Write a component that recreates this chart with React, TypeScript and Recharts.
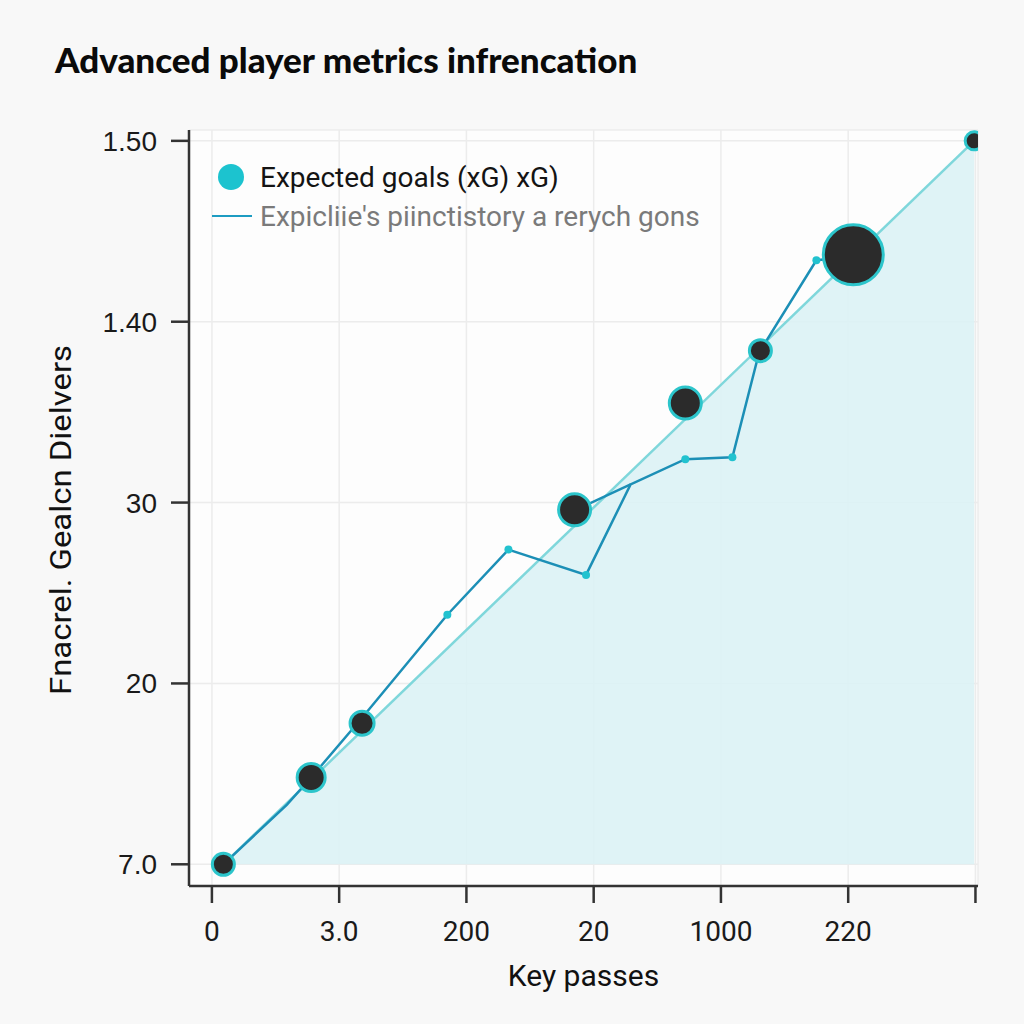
import React from "react";
import {
  ComposedChart,
  Line,
  Area,
  Scatter,
  XAxis,
  YAxis,
  CartesianGrid,
  Legend,
} from "recharts";

// tick positions and the (odd) labels printed on them
const xTicks = [0, 1, 2, 3, 4, 5, 6];
const xTickLabels = ["0", "3.0", "200", "20", "1000", "220", ""];
const yTicks = [0, 1, 2, 3, 4];
const yTickLabels = ["7.0", "20", "30", "1.40", "1.50"];

// bubbles: key passes position, xG value, bubble radius
const bubbleX = [0.09, 0.78, 1.18, 2.85, 3.72, 4.31, 5.04, 5.99];
const bubbleY = [0.0, 0.48, 0.78, 1.96, 2.55, 2.84, 3.37, 4.0];
const bubbleR = [11, 14, 12, 16, 16, 11, 30, 9];

// actual path line
const pathX = [0.09, 0.59, 0.78, 1.18, 1.85, 2.33, 2.94, 3.29, 3.72, 4.09, 4.3, 4.75, 5.04];
const pathY = [0.0, 0.33, 0.48, 0.81, 1.38, 1.74, 1.6, 2.1, 2.24, 2.25, 2.83, 3.34, 3.36];
const pathDots = [false, false, false, false, true, true, true, false, true, true, false, true, false];

// short stray segment from the 4th bubble
const strayX = [2.86, 3.29];
const strayY = [1.96, 2.1];

// trend line
const trendX = [0.09, 5.99];
const trendY = [0.0, 4.0];

const bubbles = bubbleX.map((x, i) => ({ x, y: bubbleY[i], r: bubbleR[i] }));
const path = pathX.map((x, i) => ({ x, path: pathY[i], dot: pathDots[i] }));
const stray = strayX.map((x, i) => ({ x, stray: strayY[i] }));
const trend = trendX.map((x, i) => ({ x, trend: trendY[i] }));

const BubbleShape = (props: any) => {
  const { cx, cy, payload } = props;
  return (
    <circle cx={cx} cy={cy} r={payload.r} fill="#2b2b2b" stroke="#2cc5cb" strokeWidth={3} />
  );
};

const PathDot = (props: any) => {
  const { cx, cy, payload, index } = props;
  if (!payload.dot) return <g key={`d-${index}`} />;
  return <circle key={`d-${index}`} cx={cx} cy={cy} r={4} fill="#22c2cf" />;
};

const CustomLegend = () => (
  <div style={{ fontFamily: "Roboto, 'Noto Sans', sans-serif" }}>
    <div style={{ display: "flex", alignItems: "center", height: 38 }}>
      <span
        style={{
          width: 26,
          height: 26,
          borderRadius: "50%",
          background: "#1cc3cf",
          marginLeft: 11,
          marginRight: 16,
        }}
      />
      <span style={{ fontSize: 28, color: "#141414" }}>Expected goals (xG) xG)</span>
    </div>
    <div style={{ display: "flex", alignItems: "center", height: 40 }}>
      <span
        style={{ width: 40, height: 2, background: "#1d9cc2", marginLeft: 5, marginRight: 8 }}
      />
      <span style={{ fontSize: 28, color: "#7a7a7a" }}>
        Expicliie's piinctistory a rerych gons
      </span>
    </div>
  </div>
);

const App = () => {
  return (
    <div
      style={{
        position: "fixed",
        top: 0,
        left: 0,
        width: 1024,
        height: 1024,
        background: "#f8f8f8",
      }}
    >
      <div
        style={{
          position: "absolute",
          left: 55,
          top: 38,
          fontFamily: "Lato, 'Open Sans', sans-serif",
          fontWeight: 900,
          fontSize: 35,
          color: "#0a0a0a",
          whiteSpace: "nowrap",
        }}
      >
        Advanced player metrics infrencation
      </div>
      <ComposedChart
        width={1024}
        height={1024}
        margin={{ top: 130, right: 46, left: 109, bottom: 28 }}
      >
        <CartesianGrid stroke="#ececec" strokeWidth={1.5} fill="#fdfdfd" />
        <XAxis
          type="number"
          dataKey="x"
          domain={[-0.18, 6.02]}
          ticks={xTicks}
          allowDataOverflow
          height={110}
          tickFormatter={(v: number) => xTickLabels[v] ?? ""}
          tick={{ fontSize: 28, fill: "#1a1a1a", fontFamily: "Roboto, sans-serif", dy: 16 }}
          tickSize={17}
          axisLine={{ stroke: "#333", strokeWidth: 2.5 }}
          tickLine={{ stroke: "#333", strokeWidth: 2.5 }}
          label={{
            content: (p: any) => (
              <text
                x={p.viewBox.x + p.viewBox.width / 2}
                y={p.viewBox.y + 100}
                textAnchor="middle"
                fontSize={30}
                fontFamily="Roboto, sans-serif"
                fill="#111"
              >
                Key passes
              </text>
            ),
          }}
        />
        <YAxis
          type="number"
          domain={[-0.12, 4.06]}
          ticks={yTicks}
          allowDataOverflow
          width={80}
          tickFormatter={(v: number) => yTickLabels[v] ?? ""}
          tick={{ fontSize: 28, fill: "#1a1a1a", fontFamily: "'Liberation Sans', Arial, sans-serif", dx: -12 }}
          tickSize={18}
          axisLine={{ stroke: "#333", strokeWidth: 2.5 }}
          tickLine={{ stroke: "#333", strokeWidth: 2.5 }}
          label={{
            content: (p: any) => {
              const cx = 60;
              const cy = p.viewBox.y + p.viewBox.height / 2 + 12;
              return (
                <text
                  x={cx}
                  y={cy}
                  transform={`rotate(-90 ${cx} ${cy})`}
                  textAnchor="middle"
                  dominantBaseline="central"
                  fontSize={30}
                  fontFamily="Roboto, sans-serif"
                  textLength={350}
                  lengthAdjust="spacingAndGlyphs"
                  fill="#111"
                >
                  Fnacrel. Gealcn Dielvers
                </text>
              );
            },
          }}
        />
        <Legend
          content={<CustomLegend />}
          verticalAlign="middle"
          align="center"
          wrapperStyle={{ top: 158, left: 207, width: 600 }}
        />
        <Area
          data={trend}
          dataKey="trend"
          type="linear"
          fill="#dcf2f5"
          fillOpacity={0.9}
          stroke="#7fd7db"
          strokeWidth={2.5}
          isAnimationActive={false}
          legendType="none"
        />
        <Line
          data={stray}
          dataKey="stray"
          type="linear"
          stroke="#1c8fb6"
          strokeWidth={2.5}
          dot={false}
          isAnimationActive={false}
          legendType="none"
        />
        <Line
          data={path}
          dataKey="path"
          type="linear"
          stroke="#1c8fb6"
          strokeWidth={2.5}
          dot={<PathDot />}
          isAnimationActive={false}
        />
        <Scatter
          data={bubbles}
          dataKey="y"
          shape={<BubbleShape />}
          isAnimationActive={false}
        />
      </ComposedChart>
    </div>
  );
};

export default App;
